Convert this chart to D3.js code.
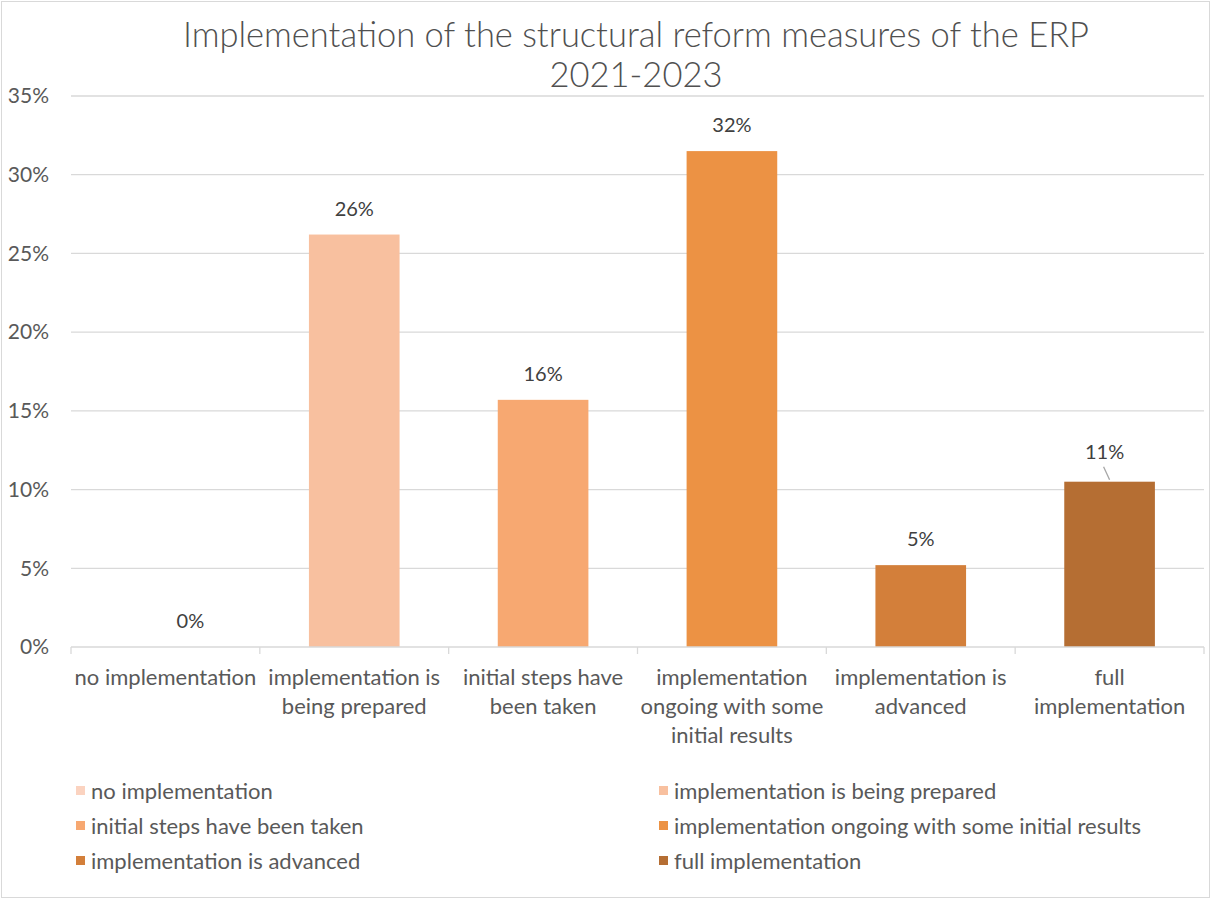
<!DOCTYPE html>
<html>
<head>
<meta charset="utf-8">
<script src="https://cdn.jsdelivr.net/npm/d3@7"></script>
<style>
  body { margin: 0; background: #fff; }
  text { font-family: "Lato", "Open Sans", sans-serif; fill: #595959; }
</style>
</head>
<body>
<div id="chart"></div>
<script>
// data
const categories = ["no implementation", "implementation is being prepared", "initial steps have been taken",
    "implementation ongoing with some initial results", "implementation is advanced", "full implementation"];
const categoryLines = [
    ["no implementation"],
    ["implementation is", "being prepared"],
    ["initial steps have", "been taken"],
    ["implementation", "ongoing with some", "initial results"],
    ["implementation is", "advanced"],
    ["full", "implementation"]
];
const values = [0, 0.262, 0.157, 0.315, 0.052, 0.105];
const valueLabels = ["0%", "26%", "16%", "32%", "5%", "11%"];
const colors = ["#FBD3C0", "#F8C09F", "#F7A871", "#EC9244", "#D37F3A", "#B56E33"];
const yTicks = [0, 0.05, 0.10, 0.15, 0.20, 0.25, 0.30, 0.35];

const W = 1212, H = 900;
const plot = { left: 71, right: 1204, top: 96, bottom: 647 };

const svg = d3.select("#chart").append("svg")
    .attr("width", W)
    .attr("height", H);

// chart frame
svg.append("rect")
    .attr("x", 1.5).attr("y", 1.5)
    .attr("width", W - 4).attr("height", H - 4)
    .attr("fill", "#fff")
    .attr("stroke", "#d9d9d9");

// title
svg.append("text")
    .attr("x", 636).attr("y", 47)
    .attr("text-anchor", "middle")
    .style("font-size", "34.5px")
    .style("font-weight", "300")
    .style("fill", "#505050")
    .text("Implementation of the structural reform measures of the ERP");
svg.append("text")
    .attr("x", 636).attr("y", 87)
    .attr("text-anchor", "middle")
    .style("font-size", "34.5px")
    .style("font-weight", "300")
    .style("fill", "#505050")
    .text("2021-2023");

// scales
const x = d3.scaleBand()
    .domain(categories)
    .range([plot.left, plot.right]);

const y = d3.scaleLinear()
    .domain([0, 0.35])
    .range([plot.bottom, plot.top]);

// gridlines
svg.append("g")
    .selectAll("line")
    .data(yTicks.filter(d => d > 0))
    .join("line")
    .attr("x1", plot.left).attr("x2", plot.right)
    .attr("y1", d => y(d)).attr("y2", d => y(d))
    .attr("stroke", "#d9d9d9")
    .attr("stroke-width", 1.3);

// y axis labels
const yAxis = svg.append("g")
    .attr("transform", `translate(${plot.left},0)`)
    .call(d3.axisLeft(y).tickValues(yTicks).tickFormat(d3.format(".0%")).tickSize(0).tickPadding(22));
yAxis.select(".domain").remove();
yAxis.selectAll("text")
    .style("font-size", "21px")
    .attr("fill", "#595959")
    .style("font-family", "Lato, sans-serif");

// bars
const barW = x.bandwidth() * 0.48;
svg.append("g")
    .selectAll("rect")
    .data(categories)
    .join("rect")
    .attr("x", d => x(d) + (x.bandwidth() - barW) / 2)
    .attr("width", barW)
    .attr("y", (d, i) => y(values[i]))
    .attr("height", (d, i) => y(0) - y(values[i]))
    .attr("fill", (d, i) => colors[i]);

// x axis
const xAxis = svg.append("g")
    .attr("transform", `translate(0,${plot.bottom})`)
    .call(d3.axisBottom(x).tickSize(0).tickFormat(""));
xAxis.select(".domain")
    .attr("stroke", "#d9d9d9")
    .attr("stroke-width", 1.3)
    .attr("d", `M${plot.left},0H${plot.right}`);
svg.append("g")
    .selectAll("line")
    .data(categories.concat(["end"]))
    .join("line")
    .attr("x1", d => d === "end" ? plot.right : x(d))
    .attr("x2", d => d === "end" ? plot.right : x(d))
    .attr("y1", plot.bottom).attr("y2", plot.bottom + 7)
    .attr("stroke", "#d9d9d9")
    .attr("stroke-width", 1.3);

// category labels
const catG = svg.append("g");
categories.forEach((c, i) => {
    const t = catG.append("text")
        .attr("text-anchor", "middle")
        .style("font-size", "22px");
    categoryLines[i].forEach((line, j) => {
        t.append("tspan")
            .attr("x", x(c) + x.bandwidth() / 2)
            .attr("y", 685 + j * 29)
            .text(line);
    });
});

// data labels (first and last were nudged by hand in the original)
const labelShift = [[25, 0], [0, 0], [0, 0], [0, 0], [0, 0], [-5, 4]];
svg.append("g")
    .selectAll("text")
    .data(categories)
    .join("text")
    .attr("x", (d, i) => x(d) + x.bandwidth() / 2 + labelShift[i][0])
    .attr("y", (d, i) => y(values[i]) - 19 - labelShift[i][1])
    .attr("text-anchor", "middle")
    .style("font-size", "20px")
    .style("fill", "#404040")
    .text((d, i) => valueLabels[i]);

// leader line for the last label
const last = categories[5];
svg.append("line")
    .attr("x1", x(last) + x.bandwidth() / 2 - 6)
    .attr("y1", y(values[5]) - 15)
    .attr("x2", x(last) + x.bandwidth() / 2)
    .attr("y2", y(values[5]) - 2)
    .attr("stroke", "#a6a6a6")
    .attr("stroke-width", 1.3);

// legend
const legendCols = [76, 659];
const legendRows = [791, 826, 861];
const legend = svg.append("g");
categories.forEach((c, i) => {
    const lx = legendCols[i % 2];
    const ly = legendRows[Math.floor(i / 2)];
    legend.append("rect")
        .attr("x", lx).attr("y", ly - 5)
        .attr("width", 9).attr("height", 9)
        .attr("fill", colors[i]);
    legend.append("text")
        .attr("x", lx + 15).attr("y", ly + 8)
        .style("font-size", "22px")
        .text(c);
});
</script>
</body>
</html>
